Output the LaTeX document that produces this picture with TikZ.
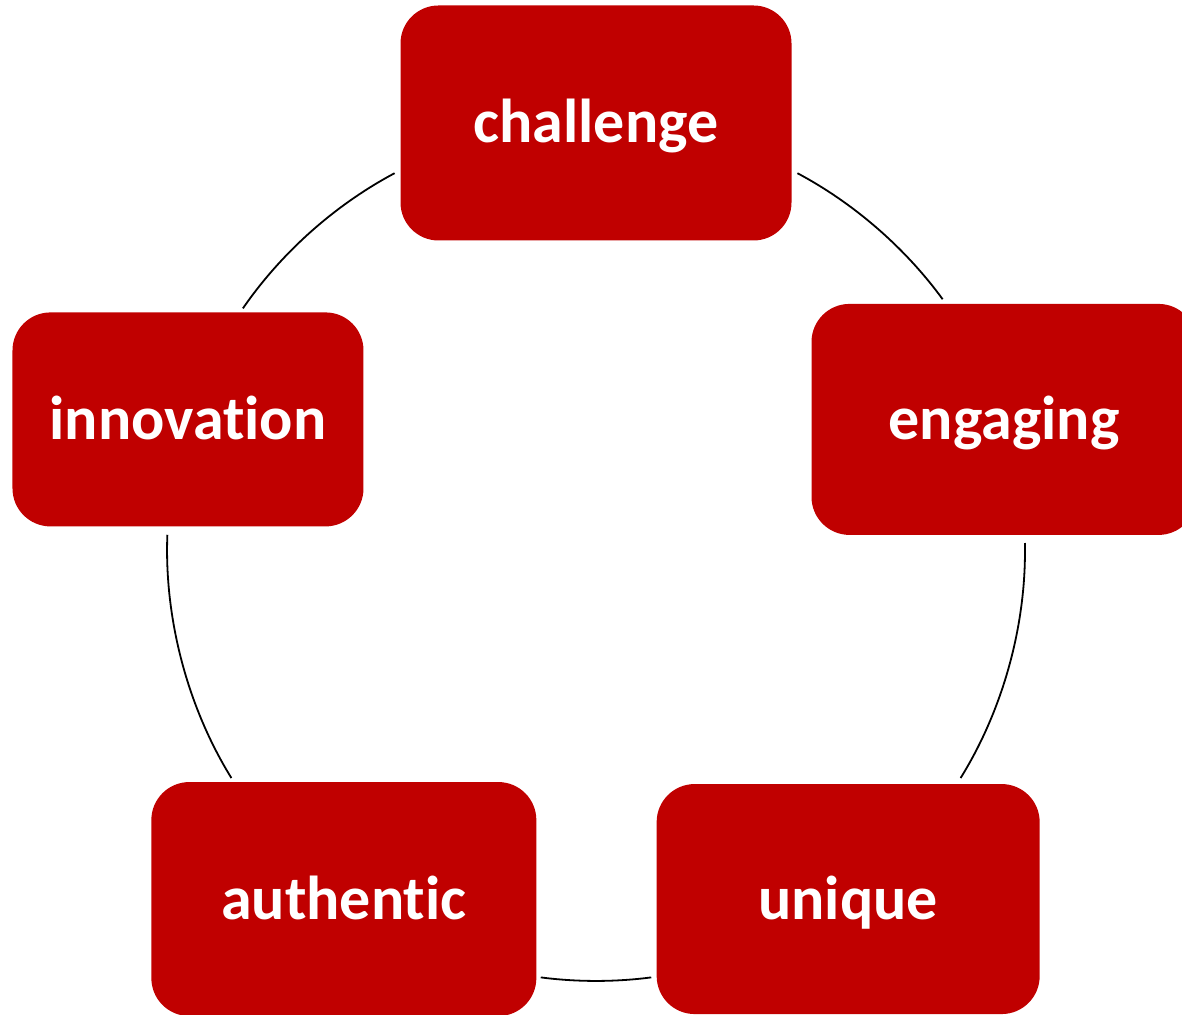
\documentclass[tikz,border=0pt]{standalone}
\usepackage{fontspec}
\setmainfont{Carlito}[Ligatures=NoCommon]
\usepackage{xcolor}
\definecolor{boxred}{HTML}{C00000}
\tikzset{
    cycle-box/.style = {fill=boxred, text=white, rectangle, rounded corners=19pt, inner sep=0pt, text height=24pt, text depth=4pt, font=\fontsize{31}{37}\selectfont\bfseries},
    cycle-link/.style = {draw=black, line width=0.9pt, looseness=0.85},
}

\begin{document}
\begin{tikzpicture}[x=0.5pt, y=0.5pt]
\useasboundingbox (0,0) rectangle (1182,1015);
\clip (0,0) rectangle (1182,1015);
\coordinate (hub) at (596,463);
% boxes round the circle
\node[cycle-box, minimum width=195.5pt, minimum height=117.5pt] (challenge) at ([shift={(90:429)}]hub) {challenge};
\node[cycle-box, minimum width=192.5pt, minimum height=115.5pt] (engaging) at ([shift={(18:429)}]hub) {engaging};
\node[cycle-box, minimum width=191.5pt, minimum height=115pt] (unique) at ([shift={(-54:429)}]hub) {unique};
\node[cycle-box, minimum width=192.5pt, minimum height=117pt] (authentic) at ([shift={(-126:429)}]hub) {authentic};
\node[cycle-box, minimum width=175.5pt, minimum height=107pt] (innovation) at ([shift={(162:429)}]hub) {innovation};
% arc ends
\coordinate (challenge-out) at ([shift={(62:429)}]hub);
\coordinate (engaging-in) at ([shift={(36.1:429)}]hub);
\coordinate (engaging-out) at ([shift={(1.2:429)}]hub);
\coordinate (unique-in) at ([shift={(-31.8:429)}]hub);
\coordinate (unique-out) at ([shift={(-82.6:429)}]hub);
\coordinate (authentic-in) at ([shift={(-97.4:429)}]hub);
\coordinate (authentic-out) at ([shift={(-148.2:429)}]hub);
\coordinate (innovation-in) at ([shift={(-182.3:429)}]hub);
\coordinate (innovation-out) at ([shift={(145.4:429)}]hub);
\coordinate (challenge-in) at ([shift={(118:429)}]hub);
\draw[cycle-link] (challenge-out) to[bend left=12.95] (engaging-in);
\draw[cycle-link] (engaging-out) to[bend left=16.5] (unique-in);
\draw[cycle-link] (unique-out) to[bend left=7.4] (authentic-in);
\draw[cycle-link] (authentic-out) to[bend left=17] (innovation-in);
\draw[cycle-link] (innovation-out) to[bend left=13.7] (challenge-in);
\end{tikzpicture}
\end{document}
